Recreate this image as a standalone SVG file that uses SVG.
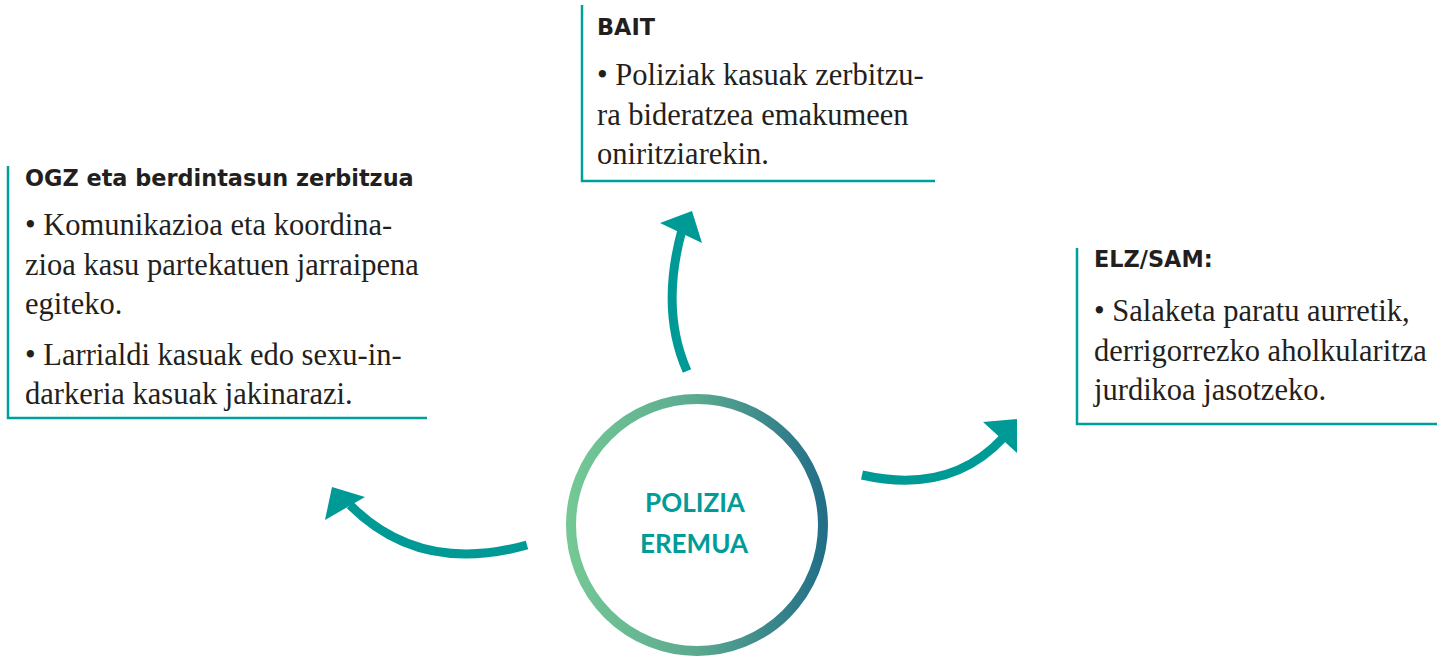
<svg xmlns="http://www.w3.org/2000/svg" width="1450" height="657" viewBox="0 0 1450 657">
<defs>
<linearGradient id="ring" x1="0" y1="0" x2="1" y2="0">
<stop offset="0" stop-color="#74C895"/>
<stop offset="0.5" stop-color="#5BA990"/>
<stop offset="1" stop-color="#236F88"/>
</linearGradient>
</defs>
<style>
.title{font-family:"DejaVu Sans",sans-serif;font-weight:700;font-size:22.4px;fill:#231F20}
.body{font-family:"Liberation Serif",serif;font-size:30.5px;fill:#231F20}
.rule{stroke:#00A09A;stroke-width:2.5;fill:none}
.shaft{stroke:#009A96;stroke-width:9;fill:none}
.head{fill:#009A96}
.center{font-family:Lato,"Liberation Sans",sans-serif;font-weight:700;font-size:26px;fill:#009C98}
</style>
<rect width="1450" height="657" fill="#fff"/>
<g id="center-node">
<circle cx="697" cy="525" r="126" fill="#fff" stroke="url(#ring)" stroke-width="10"/>
<text class="center" x="695" y="512" text-anchor="middle">POLIZIA</text>
<text class="center" x="694" y="553" text-anchor="middle">EREMUA</text>
</g>
<g id="ogz-node">
<path class="rule" d="M8,166 V418 H427"/>
<text class="title" x="25" y="186">OGZ eta berdintasun zerbitzua</text>
<text class="body" x="25" y="235">• Komunikazioa eta koordina-</text>
<text class="body" x="25" y="275">zioa kasu partekatuen jarraipena</text>
<text class="body" x="25" y="314">egiteko.</text>
<text class="body" x="25" y="365">• Larrialdi kasuak edo sexu-in-</text>
<text class="body" x="25" y="404">darkeria kasuak jakinarazi.</text>
</g>
<g id="bait-node">
<path class="rule" d="M582,5 V181 H935"/>
<text class="title" x="597" y="35">BAIT</text>
<text class="body" x="597" y="85">• Poliziak kasuak zerbitzu-</text>
<text class="body" x="597" y="125">ra bideratzea emakumeen</text>
<text class="body" x="597" y="164">oniritziarekin.</text>
</g>
<g id="elz-node">
<path class="rule" d="M1077,248 V424 H1437"/>
<text class="title" x="1094" y="267">ELZ/SAM:</text>
<text class="body" x="1094" y="321">• Salaketa paratu aurretik,</text>
<text class="body" x="1094" y="361">derrigorrezko aholkularitza</text>
<text class="body" x="1094" y="400">jurdikoa jasotzeko.</text>
</g>
<g id="connectors">
<path class="shaft" d="M687,371 Q660,310 682,230"/>
<polygon class="head" points="692,211 702,243 660,223"/>
<path class="shaft" d="M527,545 Q420,575 350,505"/>
<polygon class="head" points="332,487 365,497 325,520"/>
<path class="shaft" d="M862,475 Q950,495 1003,438"/>
<polygon class="head" points="1017,419 1017,453 983,422"/>
</g>
</svg>
